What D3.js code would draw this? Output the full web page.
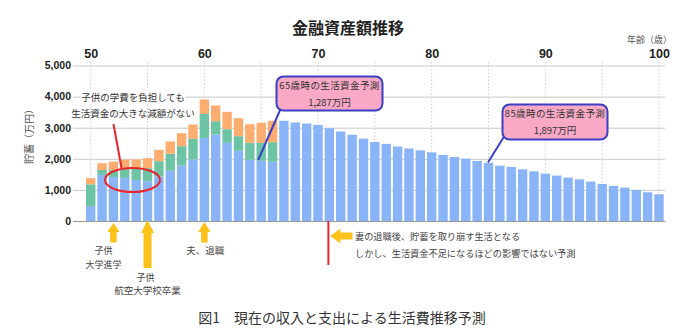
<!DOCTYPE html>
<html><head><meta charset="utf-8">
<script src="https://cdn.jsdelivr.net/npm/d3@7"></script>
<style>
html,body{margin:0;padding:0;background:#fff;}
svg{display:block;font-family:"Liberation Sans","Noto Sans CJK JP",sans-serif;}
.jp{font-family:"Noto Sans CJK JP","Liberation Sans",sans-serif;}
</style></head>
<body>
<svg id="c" width="699" height="329"></svg>
<script>
// ---- data ----
const ages = d3.range(50, 101);
const seriesBlue = [480,1480,1415,1380,1318,1280,1430,1615,1780,1977,2670,2781,2514,2257,1968,1936,1903,
  3222,3167,3135,3093,2984,2878,2775,2650,2540,2480,2395,2330,2272,2208,2122,2058,2004,1930,1870,1780,1737,1662,1598,1524,1460,1395,1340,1267,1193,1128,1073,1000,924,860];
const seriesTeal = [700,160,231,300,362,418,493,545,625,666,770,428,438,470,546,578,631,
  0,0,0,0,0,0,0,0,0,0,0,0,0,0,0,0,0,0,0,0,0,0,0,0,0,0,0,0,0,0,0,0,0,0];
const seriesOrange = [196,220,262,290,302,321,366,396,418,460,467,505,559,579,599,643,688,
  0,0,0,0,0,0,0,0,0,0,0,0,0,0,0,0,0,0,0,0,0,0,0,0,0,0,0,0,0,0,0,0,0,0];
const yTicks = [0,1000,2000,3000,4000,5000];
const xTickLabels = [50,60,70,80,90,100];
const xGridAges = [50,55,60,65,70,75,80,85,90,95,100];
const title = "金融資産額推移";
const caption = "図1　現在の収入と支出による生活費推移予測";
const yTitle = "貯蓄（万円）";
const xTitle = "年齢（歳）";

// ---- layout ----
const svg = d3.select("#c");
const plotL = 75, plotR = 665;
const x = d3.scaleLinear().domain([50,100]).range([90.7,659]);
const y = d3.scaleLinear().domain([0,5000]).range([221,65.5]);
const barW = 9.4;
const colors = {blue:"#8AB4F8", teal:"#6DC4A5", orange:"#FCAD6F"};

// title
svg.append("text").attr("class","jp").attr("x",348).attr("y",34).attr("text-anchor","middle")
  .attr("font-size",16).attr("font-weight","bold").attr("fill","#222").text(title);
svg.append("text").attr("class","jp").attr("x",672).attr("y",43).attr("text-anchor","end")
  .attr("font-size",9).attr("fill","#555").text(xTitle);

// vertical dotted grid
svg.append("g").selectAll("line").data(xGridAges).join("line")
  .attr("x1",d=>x(d)).attr("x2",d=>x(d)).attr("y1",62).attr("y2",y(0))
  .attr("stroke","#cfcfcf").attr("stroke-width",1).attr("stroke-dasharray","1.5,2");

// horizontal grid via axis
const gy = svg.append("g").attr("transform",`translate(${plotL},0)`)
  .call(d3.axisLeft(y).tickValues(yTicks).tickFormat(d3.format(",")).tickSizeInner(-(plotR-plotL)).tickSizeOuter(0).tickPadding(4));
gy.select(".domain").remove();
gy.selectAll(".tick line").attr("stroke","#c8c8c8").attr("x1",-2);
gy.selectAll(".tick text").attr("font-size",10.5).attr("font-weight","bold").attr("fill","#222")
  .attr("font-family","'Liberation Sans',sans-serif");
gy.selectAll(".tick").filter(d=>d===0).select("line").attr("stroke","#999");

// top x axis labels
const gx = svg.append("g").attr("transform","translate(0,62)")
  .call(d3.axisTop(x).tickValues(xTickLabels).tickSize(0).tickPadding(4));
gx.select(".domain").remove();
gx.selectAll(".tick text").attr("font-size",12.5).attr("font-weight","bold").attr("fill","#222")
  .attr("font-family","'Liberation Sans',sans-serif");

// y title
svg.append("text").attr("class","jp").attr("transform","translate(33,134) rotate(-90)")
  .attr("text-anchor","middle").attr("font-size",10).attr("fill","#555").text(yTitle);

// stacked bars
const rows = ages.map((a,i)=>({age:a, blue:seriesBlue[i], teal:seriesTeal[i], orange:seriesOrange[i]}));
const stack = d3.stack().keys(["blue","teal","orange"])(rows);
svg.append("g").selectAll("g").data(stack).join("g").attr("fill",d=>colors[d.key])
  .selectAll("rect").data(d=>d.filter(p=>p[1]>p[0])).join("rect")
  .attr("x",d=>x(d.data.age)-barW/2).attr("width",barW)
  .attr("y",d=>y(d[1])).attr("height",d=>y(d[0])-y(d[1]));
svg.append("line").attr("x1",plotL).attr("x2",plotR).attr("y1",y(0)+0.5).attr("y2",y(0)+0.5)
  .attr("stroke","#999").attr("stroke-width",1);

// annotation: left text
const ann = svg.append("g").attr("class","jp").attr("font-size",9.5).attr("fill","#333");
ann.append("rect").attr("x",80).attr("y",90).attr("width",105).attr("height",13).attr("fill","#fff");
ann.append("text").attr("x",133).attr("y",100.5).attr("text-anchor","middle").text("子供の学費を負担しても");
ann.append("text").attr("x",133).attr("y",116.5).attr("text-anchor","middle").text("生活資金の大きな減額がない");
svg.append("line").attr("x1",113.5).attr("y1",124).attr("x2",121.5).attr("y2",168)
  .attr("stroke","#E8262E").attr("stroke-width",2);
svg.append("ellipse").attr("cx",132.5).attr("cy",180).attr("rx",27.5).attr("ry",12)
  .attr("fill","none").attr("stroke","#E8262E").attr("stroke-width",2);

// callouts
function callout(bx,by,bw,bh,l1,l2,px1,py1,px2,py2){
  svg.append("line").attr("x1",px1).attr("y1",py1).attr("x2",px2).attr("y2",py2)
    .attr("stroke","#3B3FC4").attr("stroke-width",2);
  svg.append("rect").attr("x",bx).attr("y",by).attr("width",bw).attr("height",bh).attr("rx",7)
    .attr("fill","#F9A9C6").attr("stroke","#3B3FC4").attr("stroke-width",2);
  svg.append("text").attr("class","jp").attr("x",bx+bw/2).attr("y",by+12).attr("text-anchor","middle")
    .attr("font-size",9.5).attr("letter-spacing",0.4).attr("fill","#333").text(l1);
  svg.append("text").attr("class","jp").attr("x",bx+bw/2).attr("y",by+29).attr("text-anchor","middle")
    .attr("font-size",9.5).attr("fill","#333").text(l2);
}
callout(276.5,76.5,106,34,"65歳時の生活資金予測","1,287万円", 281,108, x(65)-3,160);
callout(502.5,104.5,105,35,"85歳時の生活資金予測","1,897万円", 505,135, x(85)-0.5,162.5);

// yellow up arrows
const yellow = "#FDC21A";
function upArrow(cx,tip,headBase,bottom,hw,sw){
  svg.append("path").attr("fill",yellow)
    .attr("d",`M${cx},${tip} L${cx+hw/2},${headBase} L${cx+sw/2},${headBase} L${cx+sw/2},${bottom} L${cx-sw/2},${bottom} L${cx-sw/2},${headBase} L${cx-hw/2},${headBase} Z`);
}
upArrow(x(52),223,232,242.5,12.5,6.5);
upArrow(x(55),220,233,268,13,8);
upArrow(x(60),222,232,242.5,12.5,6.5);
const lab = svg.append("g").attr("class","jp").attr("font-size",9).attr("fill","#444").attr("text-anchor","middle");
lab.append("text").attr("x",x(52)-10).attr("y",254).text("子供");
lab.append("text").attr("x",x(52)-10).attr("y",267.5).text("大学進学");
lab.append("text").attr("x",x(55)-2).attr("y",280.5).text("子供");
lab.append("text").attr("x",x(55)).attr("y",294).attr("font-size",9.5).text("航空大学校卒業");
lab.append("text").attr("x",x(60)+1).attr("y",253.5).attr("font-size",9.5).text("夫、退職");

// red vertical line + left arrow
svg.append("line").attr("x1",x(71)-1).attr("x2",x(71)-1).attr("y1",y(0)).attr("y2",265)
  .attr("stroke","#E8262E").attr("stroke-width",2);
const ax0 = x(71)+1;
svg.append("path").attr("fill",yellow)
  .attr("d",`M${ax0},236 L${ax0+10},228.5 L${ax0+10},232.5 L${ax0+22},232.5 L${ax0+22},239.5 L${ax0+10},239.5 L${ax0+10},243.5 Z`);
const lab2 = svg.append("g").attr("class","jp").attr("font-size",9.2).attr("fill","#444");
lab2.append("text").attr("x",355).attr("y",239.5).text("妻の退職後、貯蓄を取り崩す生活となる");
lab2.append("text").attr("x",355).attr("y",256.5).text("しかし、生活資金不足になるほどの影響ではない予測");

// caption
svg.append("text").attr("class","jp").attr("x",342).attr("y",322.5).attr("text-anchor","middle")
  .attr("font-size",14).attr("fill","#333").text(caption);
</script>
</body></html>
